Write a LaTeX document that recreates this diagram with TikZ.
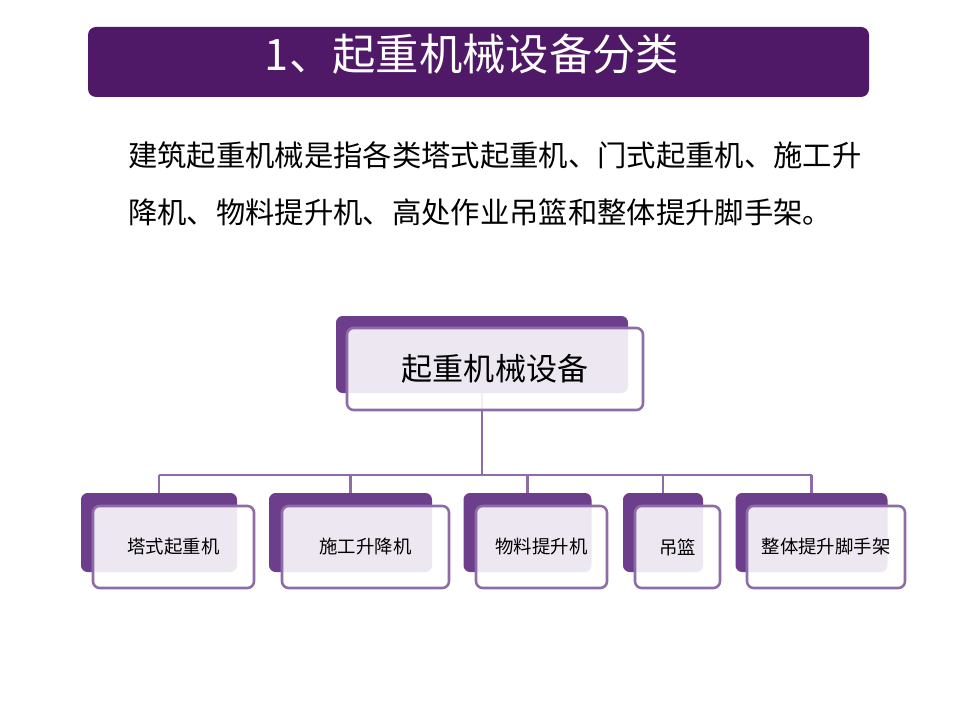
\documentclass[tikz,border=0pt]{standalone}
\usepackage{fontspec}
\setmainfont{Noto Sans CJK SC}
\usetikzlibrary{calc}
\definecolor{titlebg}{RGB}{79,25,103}
\definecolor{backpurple}{RGB}{108,62,140}
\definecolor{linepurple}{RGB}{142,108,168}
\pgfdeclarelayer{bg}
\pgfsetlayers{bg,main}
\tikzset{
  backbox/.style={rectangle, rounded corners=5pt, fill=backpurple, inner sep=0pt},
  frontbox/.style={rectangle, rounded corners=5pt, draw=linepurple, line width=1.9pt,
    fill=white, fill opacity=0.88, text opacity=1, inner sep=0pt,
    font=\fontsize{13.8pt}{16pt}\selectfont},
  conn/.style={draw=linepurple, line width=1.9pt},
  bodytext/.style={anchor=west, inner sep=0pt, font=\fontsize{22pt}{26pt}\selectfont}
}
\begin{document}
\begin{tikzpicture}[x=0.75pt,y=-0.75pt]
\useasboundingbox (0,0) rectangle (960,720);
% title
\node[rectangle, rounded corners=6pt, fill=titlebg, minimum width=585.75pt, minimum height=52.5pt, inner sep=0pt] (titlebar) at (478.5,62) {};
\node[text=white, inner sep=0pt, font=\fontsize{32.5pt}{38pt}\selectfont] (titletext) at (472,54) {1、起重机械设备分类};
% body text
\node[bodytext] (line1) at (128,155) {建筑起重机械是指各类塔式起重机、门式起重机、施工升};
\node[bodytext] (line2) at (128,212) {降机、物料提升机、高处作业吊篮和整体提升脚手架。};
% top node
\node[backbox, minimum width=219pt, minimum height=57.75pt] (b0) at (482,354.5) {};
\node[frontbox, minimum width=222pt, minimum height=61.5pt, font=\fontsize{23.3pt}{27pt}\selectfont] (f0) at (495,369) {起重机械设备};
% children back
\node[backbox, minimum width=117pt, minimum height=59.25pt] (b1) at (159,532.5) {};
\node[backbox, minimum width=122.25pt, minimum height=59.25pt] (b2) at (350.5,532.5) {};
\node[backbox, minimum width=96pt, minimum height=59.25pt] (b3) at (527.5,532.5) {};
\node[backbox, minimum width=60pt, minimum height=59.25pt] (b4) at (663,532.5) {};
\node[backbox, minimum width=114pt, minimum height=59.25pt] (b5) at (811.5,532.5) {};
% children front
\node[frontbox, minimum width=120.75pt, minimum height=61.5pt] (f1) at (173.5,547) {塔式起重机};
\node[frontbox, minimum width=125.25pt, minimum height=61.5pt] (f2) at (365.5,547) {施工升降机};
\node[frontbox, minimum width=98.25pt, minimum height=61.5pt] (f3) at (541.5,547) {物料提升机};
\node[frontbox, minimum width=63.75pt, minimum height=61.5pt] (f4) at (677.5,547) {吊篮};
\node[frontbox, minimum width=118.5pt, minimum height=61.5pt] (f5) at (826,547) {整体提升脚手架};
% connectors
\coordinate (bus) at (0,475);
\begin{pgfonlayer}{bg}
\draw[conn] (b0.south) -- (b0.south |- bus);
\draw[conn] (b1.north |- bus) -- (b5.north |- bus);
\foreach \i in {1,...,5}{
  \draw[conn] (b\i.north |- bus) -- (b\i.north);
}
\end{pgfonlayer}
\end{tikzpicture}
\end{document}
